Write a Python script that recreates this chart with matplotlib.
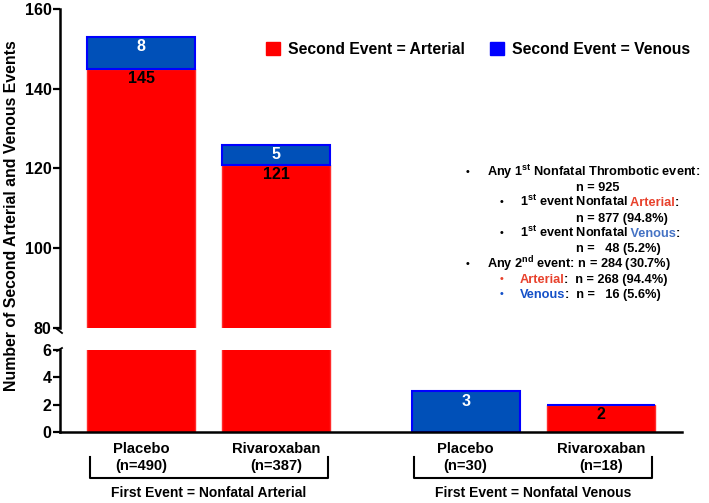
import matplotlib
matplotlib.use("Agg")
import matplotlib.pyplot as plt
from matplotlib.patches import Patch
from matplotlib.transforms import blended_transform_factory
from matplotlib.lines import Line2D
from matplotlib.font_manager import findfont, get_font, FontProperties

plt.rcParams['font.family'] = ['Liberation Sans', 'DejaVu Sans']
plt.rcParams['font.weight'] = 'bold'
plt.rcParams['mathtext.fontset'] = 'custom'
plt.rcParams['mathtext.rm'] = 'Liberation Sans:bold'
plt.rcParams['mathtext.it'] = 'Liberation Sans:bold'
plt.rcParams['mathtext.bf'] = 'Liberation Sans:bold'

# ---- data ----
categories = ["Placebo", "Rivaroxaban", "Placebo", "Rivaroxaban"]
n_labels = ["(n=490)", "(n=387)", "(n=30)", "(n=18)"]
x_pos = [0.0, 1.0, 2.4, 3.4]
arterial = [145, 121, 0, 2]
venous = [8, 5, 3, 0]
groups = ["First Event = Nonfatal Arterial", "First Event = Nonfatal Venous"]
group_members = [(0, 1), (2, 3)]
upper_ticks = [80, 100, 120, 140, 160]
lower_ticks = [0, 2, 4, 6]

RED = "#FF0000"
BLUE_FILL = "#0050B8"
BLUE_EDGE = "#0000FF"

W, H = 709, 503
fig = plt.figure(figsize=(W / 100, H / 100), dpi=100)

def fx(px):
    return px / W

def fy(py):
    return 1 - py / H

L, R = fx(60), fx(682)
ax_top = fig.add_axes([L, fy(328), R - L, fy(9) - fy(328)])
ax_bot = fig.add_axes([L, fy(432), R - L, fy(350) - fy(432)])

for ax, lo, hi, ticks in [(ax_top, 80, 160, upper_ticks), (ax_bot, 0, 6, lower_ticks)]:
    ax.bar(x_pos, arterial, width=0.8, color=RED, edgecolor="#FF2A2A", linewidth=1.0)
    ax.bar(x_pos, venous, bottom=arterial, width=0.8, color=BLUE_FILL,
           edgecolor=BLUE_EDGE, linewidth=1.5)
    ax.set_ylim(lo, hi)
    ax.set_xlim(-0.6, 4.0)
    ax.set_yticks(ticks)
    ax.set_xticks([])
    ax.patch.set_alpha(0)
    for s in ["top", "right"]:
        ax.spines[s].set_visible(False)
    ax.spines["left"].set_linewidth(1.8)
    ax.tick_params(axis="y", length=5, width=1.6, labelsize=11.5, pad=1)
    for lab in ax.get_yticklabels():
        lab.set_fontweight("bold")

ax_top.spines["bottom"].set_visible(False)
ax_bot.spines["bottom"].set_linewidth(1.8)

# value labels
for i, x in enumerate(x_pos):
    a, v = arterial[i], venous[i]
    for ax, lo, hi in [(ax_top, 80, 160), (ax_bot, 0, 6)]:
        if v > 0 and lo < a + v <= hi:
            ax.annotate(str(v), (x, a + v), xytext=(0, -10), textcoords="offset pixels",
                        ha="center", va="center", color="white", fontsize=11.5,
                        fontweight="bold")
        if a > 0 and lo < a <= hi:
            ax.annotate(str(a), (x, a), xytext=(0, -10), textcoords="offset pixels",
                        ha="center", va="center", color="black", fontsize=11.5,
                        fontweight="bold")

# break marks
for (x0, y0, x1, y1) in [(57, 329, 62, 333), (57, 351, 62, 348)]:
    fig.add_artist(Line2D([fx(x0), fx(x1)], [fy(y0), fy(y1)], color="black", lw=1.3))

# y label
fig.text(fx(12), fy(216), "Number of Second Arterial and Venous Events", rotation=90,
         ha="center", va="center", fontsize=11.4, fontweight="bold")

# category labels and brackets
tr = blended_transform_factory(ax_bot.transData, fig.transFigure)
for i, x in enumerate(x_pos):
    fig.text(x, fy(449), categories[i], transform=tr, ha="center", va="center",
             fontsize=10.6, fontweight="bold")
    fig.text(x, fy(466), n_labels[i], transform=tr, ha="center", va="center",
             fontsize=10.6, fontweight="bold")
for gi, (i0, i1) in enumerate(group_members):
    xl = x_pos[i0] - 0.38
    xr = x_pos[i1] + 0.38
    fig.add_artist(Line2D([xl, xl, xr, xr], [fy(457), fy(478), fy(478), fy(457)],
                          transform=tr, color="black", lw=1.5))
    fig.text((xl + xr) / 2, fy(493), groups[gi], transform=tr, ha="center",
             va="center", fontsize=10, fontweight="bold")

# legend
handles = [Patch(facecolor=RED, edgecolor=RED, label="Second Event = Arterial"),
           Patch(facecolor=BLUE_EDGE, edgecolor=BLUE_EDGE, label="Second Event = Venous")]
leg = fig.legend(handles=handles, loc="center", bbox_to_anchor=(fx(478), fy(49)),
                 ncol=2, frameon=False, handlelength=0.9, handleheight=0.9,
                 columnspacing=1.6, handletextpad=0.5,
                 prop={"weight": "bold", "size": 11.3})

# right annotation text (multi-coloured lines built from pieces)
fig.canvas.draw()
renderer = fig.canvas.get_renderer()
FS = 9.2
ARED = "#E8412C"
LBLUE = "#4472C4"
DBLUE = "#1450C8"

def rwidth(s):
    t = fig.text(0, 0, s, fontsize=FS, fontweight="bold")
    w = t.get_window_extent(renderer).width
    t.remove()
    return w

_font = get_font(findfont(FontProperties(family="Liberation Sans", weight="bold", size=FS)))

def adv_raw(s):
    _font.clear()
    _font.set_size(FS, 100)
    return sum(_font.load_char(ord(c)).linearHoriAdvance for c in s)

_test = "Any Nonfatal Thrombotic event n = 268 (94.4%) Arterial Venous"
_scale = rwidth(_test) / adv_raw(_test)

def adv(s):
    if "$" in s:
        return rwidth(s)
    return adv_raw(s) * _scale

def line(px, py, parts):
    x = px
    for s, c in parts:
        fig.text(fx(x), fy(py + 4), s, ha="left", va="baseline", fontsize=FS,
                 fontweight="bold", color=c)
        x += adv(s)
        if s.endswith("l") or s.endswith("s"):
            x -= 0.8

def bullet(px, py, col="black"):
    fig.text(fx(px), fy(py), "•", ha="center", va="center", fontsize=7.5,
             color=col, fontweight="bold")

K = "black"
bullet(467, 172)
line(487, 172, [(r"Any 1$^{\mathrm{st}}$ Nonfatal Thrombotic event:", K)])
line(576, 187, [("n = 925", K)])
bullet(502, 202)
line(520, 202, [(r"1$^{\mathrm{st}}$ event Nonfatal", K), (" Arterial", ARED), (":", K)])
line(576, 218, [("n = 877 (94.8%)", K)])
bullet(502, 233)
line(520, 233, [(r"1$^{\mathrm{st}}$ event Nonfatal", K), (" Venous", LBLUE), (":", K)])
line(576, 248, [("n =   48 (5.2%)", K)])
bullet(467, 264)
line(487, 264, [(r"Any 2$^{\mathrm{nd}}$ event: n = 284 (30.7%)", K)])
bullet(502, 279, ARED)
line(520, 279, [("Arterial", ARED), (":  n = 268 (94.4%)", K)])
bullet(502, 294, DBLUE)
line(520, 294, [("Venous", DBLUE), (":  n =   16 (5.6%)", K)])

fig.savefig("out.png", dpi=100)
